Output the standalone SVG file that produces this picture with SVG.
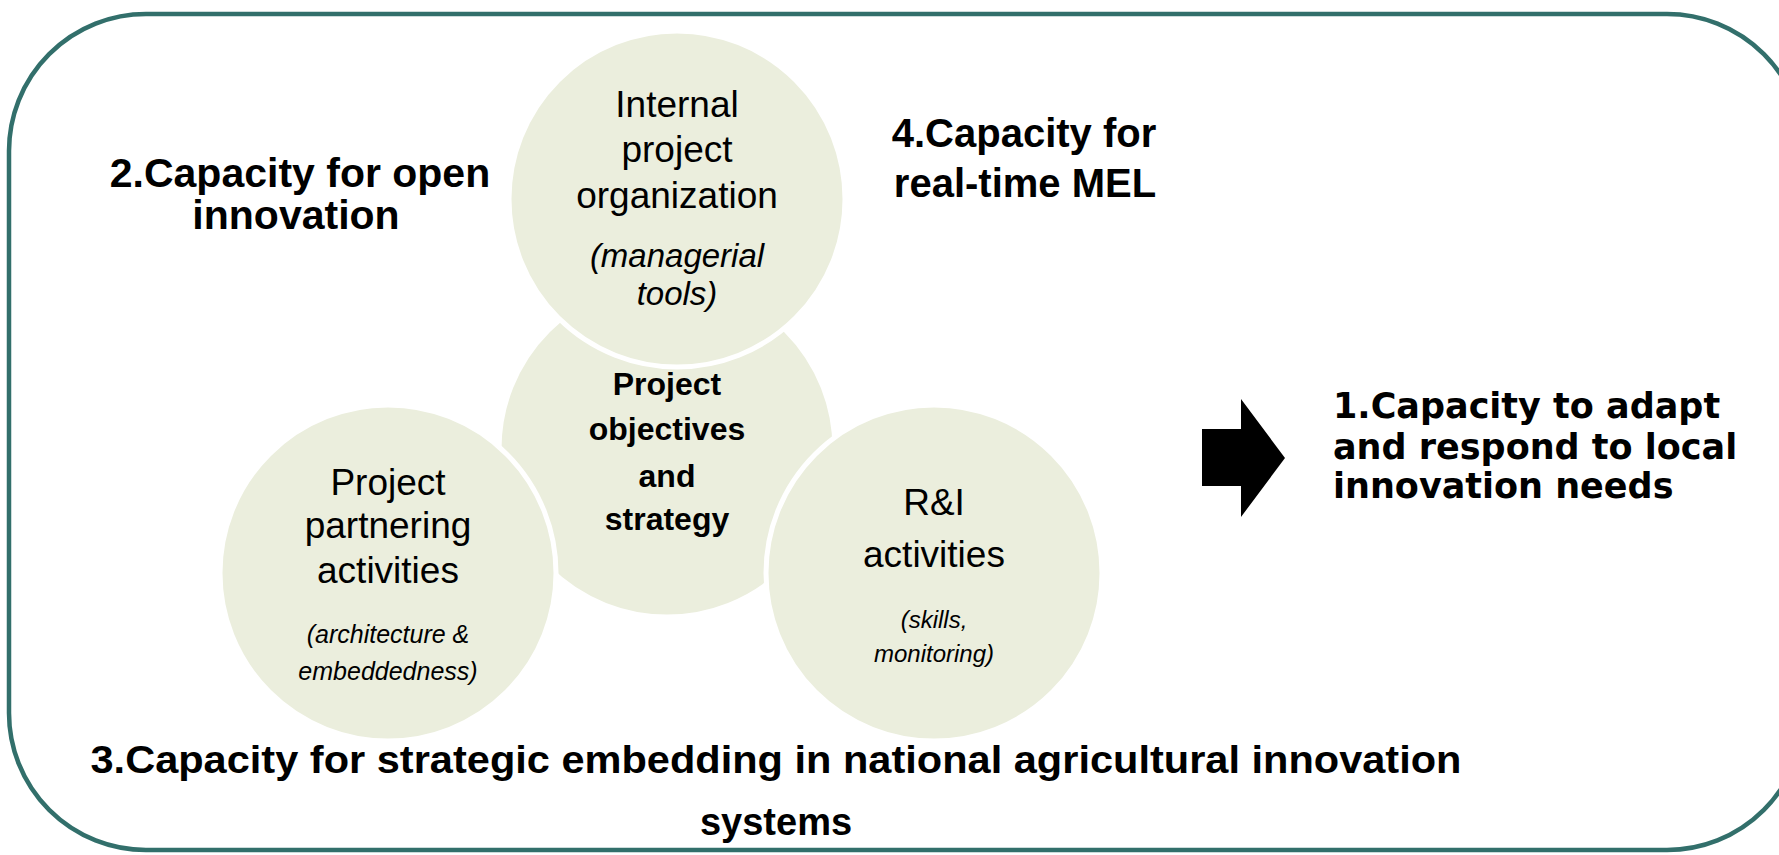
<svg xmlns="http://www.w3.org/2000/svg" width="1779" height="855" viewBox="0 0 1779 855">
<style>
.frame{fill:none;stroke:#326f6b;stroke-width:4.5}
.circ{fill:#ebeedd;stroke:#ffffff;stroke-width:5}
.reg{font-family:"Liberation Sans",Arial,sans-serif;font-size:37px;fill:#000;text-anchor:middle}
.ita{font-family:"Liberation Sans",Arial,sans-serif;font-style:italic;fill:#000;text-anchor:middle}
.bold{font-family:"Liberation Sans",Arial,sans-serif;font-weight:bold;fill:#000}
.wide{font-family:"DejaVu Sans","Liberation Sans",sans-serif;font-weight:bold;font-size:35px;fill:#000}
.mid{text-anchor:middle}
</style>
<rect class="frame" x="9" y="14" width="1795" height="836" rx="137" ry="137"/>
<g id="center">
<circle class="circ" cx="667" cy="449" r="168"/>
<text class="bold mid" font-size="32" x="667" y="395">Project</text>
<text class="bold mid" font-size="32" x="667" y="440">objectives</text>
<text class="bold mid" font-size="32" x="667" y="487">and</text>
<text class="bold mid" font-size="32" x="667" y="530">strategy</text>
</g>
<g id="left">
<circle class="circ" cx="388" cy="573" r="168"/>
<text class="reg" x="388" y="495">Project</text>
<text class="reg" x="388" y="538">partnering</text>
<text class="reg" x="388" y="583">activities</text>
<text class="ita" font-size="25" x="388" y="643">(architecture &amp;</text>
<text class="ita" font-size="25" x="388" y="680">embeddedness)</text>
</g>
<g id="right">
<circle class="circ" cx="934" cy="573" r="168"/>
<text class="reg" x="934" y="515">R&amp;I</text>
<text class="reg" x="934" y="567">activities</text>
<text class="ita" font-size="24" x="934" y="628">(skills,</text>
<text class="ita" font-size="24" x="934" y="662">monitoring)</text>
</g>
<g id="top">
<circle class="circ" cx="677" cy="199" r="168"/>
<text class="reg" x="677" y="117">Internal</text>
<text class="reg" x="677" y="162">project</text>
<text class="reg" x="677" y="208">organization</text>
<text class="ita" font-size="33" x="677" y="267">(managerial</text>
<text class="ita" font-size="33" x="677" y="305">tools)</text>
</g>
<g id="cap2">
<text class="bold mid" font-size="41" x="300" y="187">2.Capacity for open</text>
<text class="bold mid" font-size="41" x="296" y="229">innovation</text>
</g>
<g id="cap4">
<text class="bold mid" font-size="40" x="1024" y="147">4.Capacity for</text>
<text class="bold mid" font-size="40" x="1025" y="197">real-time MEL</text>
</g>
<g id="cap1">
<text class="wide" x="1333" y="418">1.Capacity to adapt</text>
<text class="wide" x="1333" y="459">and respond to local</text>
<text class="wide" x="1333" y="498">innovation needs</text>
</g>
<g id="cap3">
<text class="bold mid" font-size="38" x="776" y="773" textLength="1371" lengthAdjust="spacingAndGlyphs">3.Capacity for strategic embedding in national agricultural innovation</text>
<text class="bold mid" font-size="38" x="776" y="835">systems</text>
</g>
<g id="connectors">
<polygon points="1202,429 1241,429 1241,399 1285,458 1241,517 1241,486 1202,486" fill="#000"/>
</g>
</svg>
